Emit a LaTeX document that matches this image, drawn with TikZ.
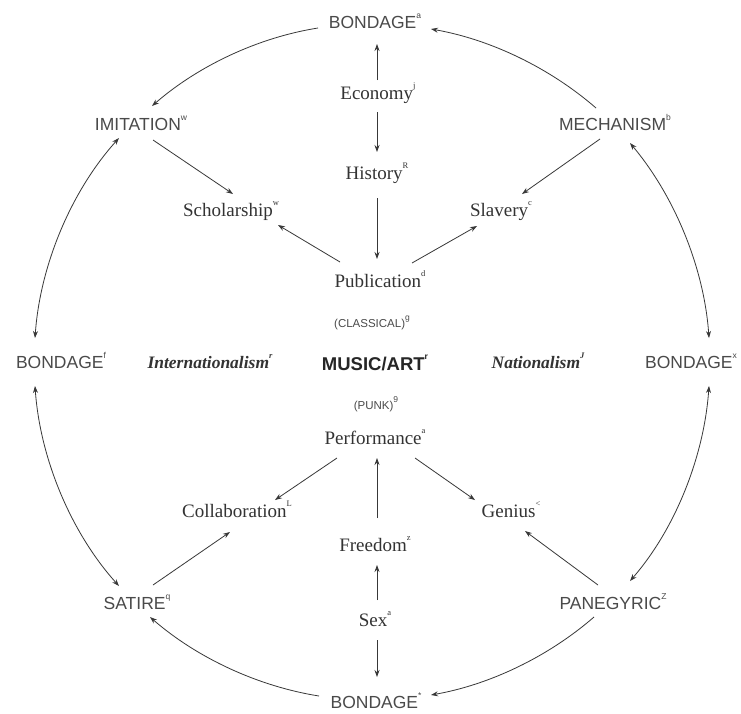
\documentclass[tikz,border=0pt]{standalone}
\usepackage{fontspec}
\setmainfont{Liberation Serif}
\setsansfont{Liberation Sans}
\usetikzlibrary{arrows.meta}
\definecolor{ink}{HTML}{333333}
\definecolor{capsink}{HTML}{4A4A4A}
\definecolor{lineink}{HTML}{383838}
\newcommand\mk[1]{\raisebox{0.55em}{\fontsize{8.5}{8.5}\selectfont #1}}
\begin{document}
\begin{tikzpicture}[x=1pt,y=1pt,
 caps/.style={font=\sffamily\fontsize{17.5}{20}\selectfont, text=capsink, anchor=base, inner sep=0pt},
 serif/.style={font=\fontsize{19}{22}\selectfont, text=ink, anchor=base, inner sep=0pt},
 ital/.style={font=\bfseries\itshape\fontsize{17.5}{20}\selectfont, text=ink, anchor=base, inner sep=0pt},
 small/.style={font=\sffamily\fontsize{11.5}{13}\selectfont, text=capsink, anchor=base, inner sep=0pt},
 hub/.style={font=\sffamily\bfseries\fontsize{18.5}{21}\selectfont, text=black!85, anchor=base, inner sep=0pt},
 arr/.style={draw=lineink, line width=0.8pt, -{Stealth[length=7pt,width=5pt]}},
 darr/.style={draw=lineink, line width=0.8pt, {Stealth[length=7pt,width=5pt]}-{Stealth[length=7pt,width=5pt]}},
 rim/.style={looseness=0.85}
]
\useasboundingbox (0,0) rectangle (741,-713);
\fill[white] (0,0) rectangle (741,-713);

% nodes
\node[caps]  (btop)    at (375,-28)  {BONDAGE\mk{a}};
\node[serif] (econ)    at (378,-99)  {Economy\mk{j}};
\node[serif] (hist)    at (377,-179) {History\mk{R}};
\node[caps]  (imit)    at (141,-130) {IMITATION\mk{w}};
\node[caps]  (mech)    at (615,-130) {MECHANISM\mk{b}};
\node[serif] (schol)   at (231,-216) {Scholarship\mk{w}};
\node[serif] (slav)    at (501,-216) {Slavery\mk{c}};
\node[serif] (publ)    at (380,-287) {Publication\mk{d}};
\node[small] (class)   at (372,-327) {(CLASSICAL)\mk{g}};
\node[hub]   (music)   at (375,-370) {MUSIC/ART\mk{r}};
\node[ital]  (intl)    at (210,-368) {Internationalism\mk{r}};
\node[caps]  (bleft)   at (61,-368)  {BONDAGE\mk{f}};
\node[ital]  (natl)    at (538,-368) {Nationalism\mk{J}};
\node[caps]  (bright)  at (691,-368) {BONDAGE\mk{x}};
\node[small] (punk)    at (376,-409) {(PUNK)\mk{9}};
\node[serif] (perf)    at (375,-444) {Performance\mk{a}};
\node[serif] (collab)  at (237,-517) {Collaboration\mk{L}};
\node[serif] (genius)  at (511,-517) {Genius\mk{<}};
\node[serif] (freedom) at (375,-551) {Freedom\mk{z}};
\node[serif] (sex)     at (375,-626) {Sex\mk{a}};
\node[caps]  (satire)  at (137,-609) {SATIRE\mk{q}};
\node[caps]  (pane)    at (613,-609) {PANEGYRIC\mk{Z}};
\node[caps]  (bbot)    at (376,-708) {BONDAGE\mk{*}};

% straight connectors
\draw[arr] ([shift={(-1,19)}]econ.base) -- ([shift={(2,-16)}]btop.base);
\draw[arr] ([shift={(-1,-13)}]econ.base) -- ([shift={(0,27)}]hist.base);
\draw[arr] ([shift={(0,-19)}]hist.base) -- ([shift={(-3,28)}]publ.base);
\draw[arr] ([shift={(-40,25)}]publ.base) -- ([shift={(47,-9)}]schol.base);
\draw[arr] ([shift={(32,24)}]publ.base) -- ([shift={(-24,-10)}]slav.base);
\draw[arr] ([shift={(12,-10)}]imit.base) -- ([shift={(2,22)}]schol.base);
\draw[arr] ([shift={(-15,-9)}]mech.base) -- ([shift={(21,22)}]slav.base);
\draw[arr] ([shift={(-38,-14)}]perf.base) -- ([shift={(38,17)}]collab.base);
\draw[arr] ([shift={(40,-14)}]perf.base) -- ([shift={(-36,17)}]genius.base);
\draw[arr] ([shift={(2,33)}]freedom.base) -- ([shift={(2,-14)}]perf.base);
\draw[arr] ([shift={(2,26)}]sex.base) -- ([shift={(2,-14)}]freedom.base);
\draw[arr] ([shift={(2,-14)}]sex.base) -- ([shift={(1,31)}]bbot.base);
\draw[arr] ([shift={(16,24)}]satire.base) -- ([shift={(-7,-15)}]collab.base);
\draw[arr] ([shift={(-15,24)}]pane.base) -- ([shift={(14,-14)}]genius.base);

% outer ring
\draw[arr]  ([shift={(-19,22)}]mech.base) to[out=139,in=-10,rim] ([shift={(56,-1)}]btop.base);
\draw[arr]  ([shift={(-57,0)}]btop.base) to[out=189,in=41,rim] ([shift={(11,24)}]imit.base);
\draw[darr] ([shift={(-22,-8)}]imit.base) to[out=228,in=86,rim] ([shift={(-26,30)}]bleft.base);
\draw[darr] ([shift={(-26,-18)}]bleft.base) to[out=274,in=132,rim] ([shift={(-18,23)}]satire.base);
\draw[arr]  ([shift={(-57,12)}]bbot.base) to[out=171,in=319,rim] ([shift={(13,-8)}]satire.base);
\draw[arr]  ([shift={(-19,-8)}]pane.base) to[out=221,in=10,rim] ([shift={(55,13)}]bbot.base);
\draw[darr] ([shift={(17,28)}]pane.base) to[out=49,in=266,rim] ([shift={(18,-18)}]bright.base);
\draw[darr] ([shift={(18,30)}]bright.base) to[out=94,in=310,rim] ([shift={(15,-13)}]mech.base);
\end{tikzpicture}
\end{document}
